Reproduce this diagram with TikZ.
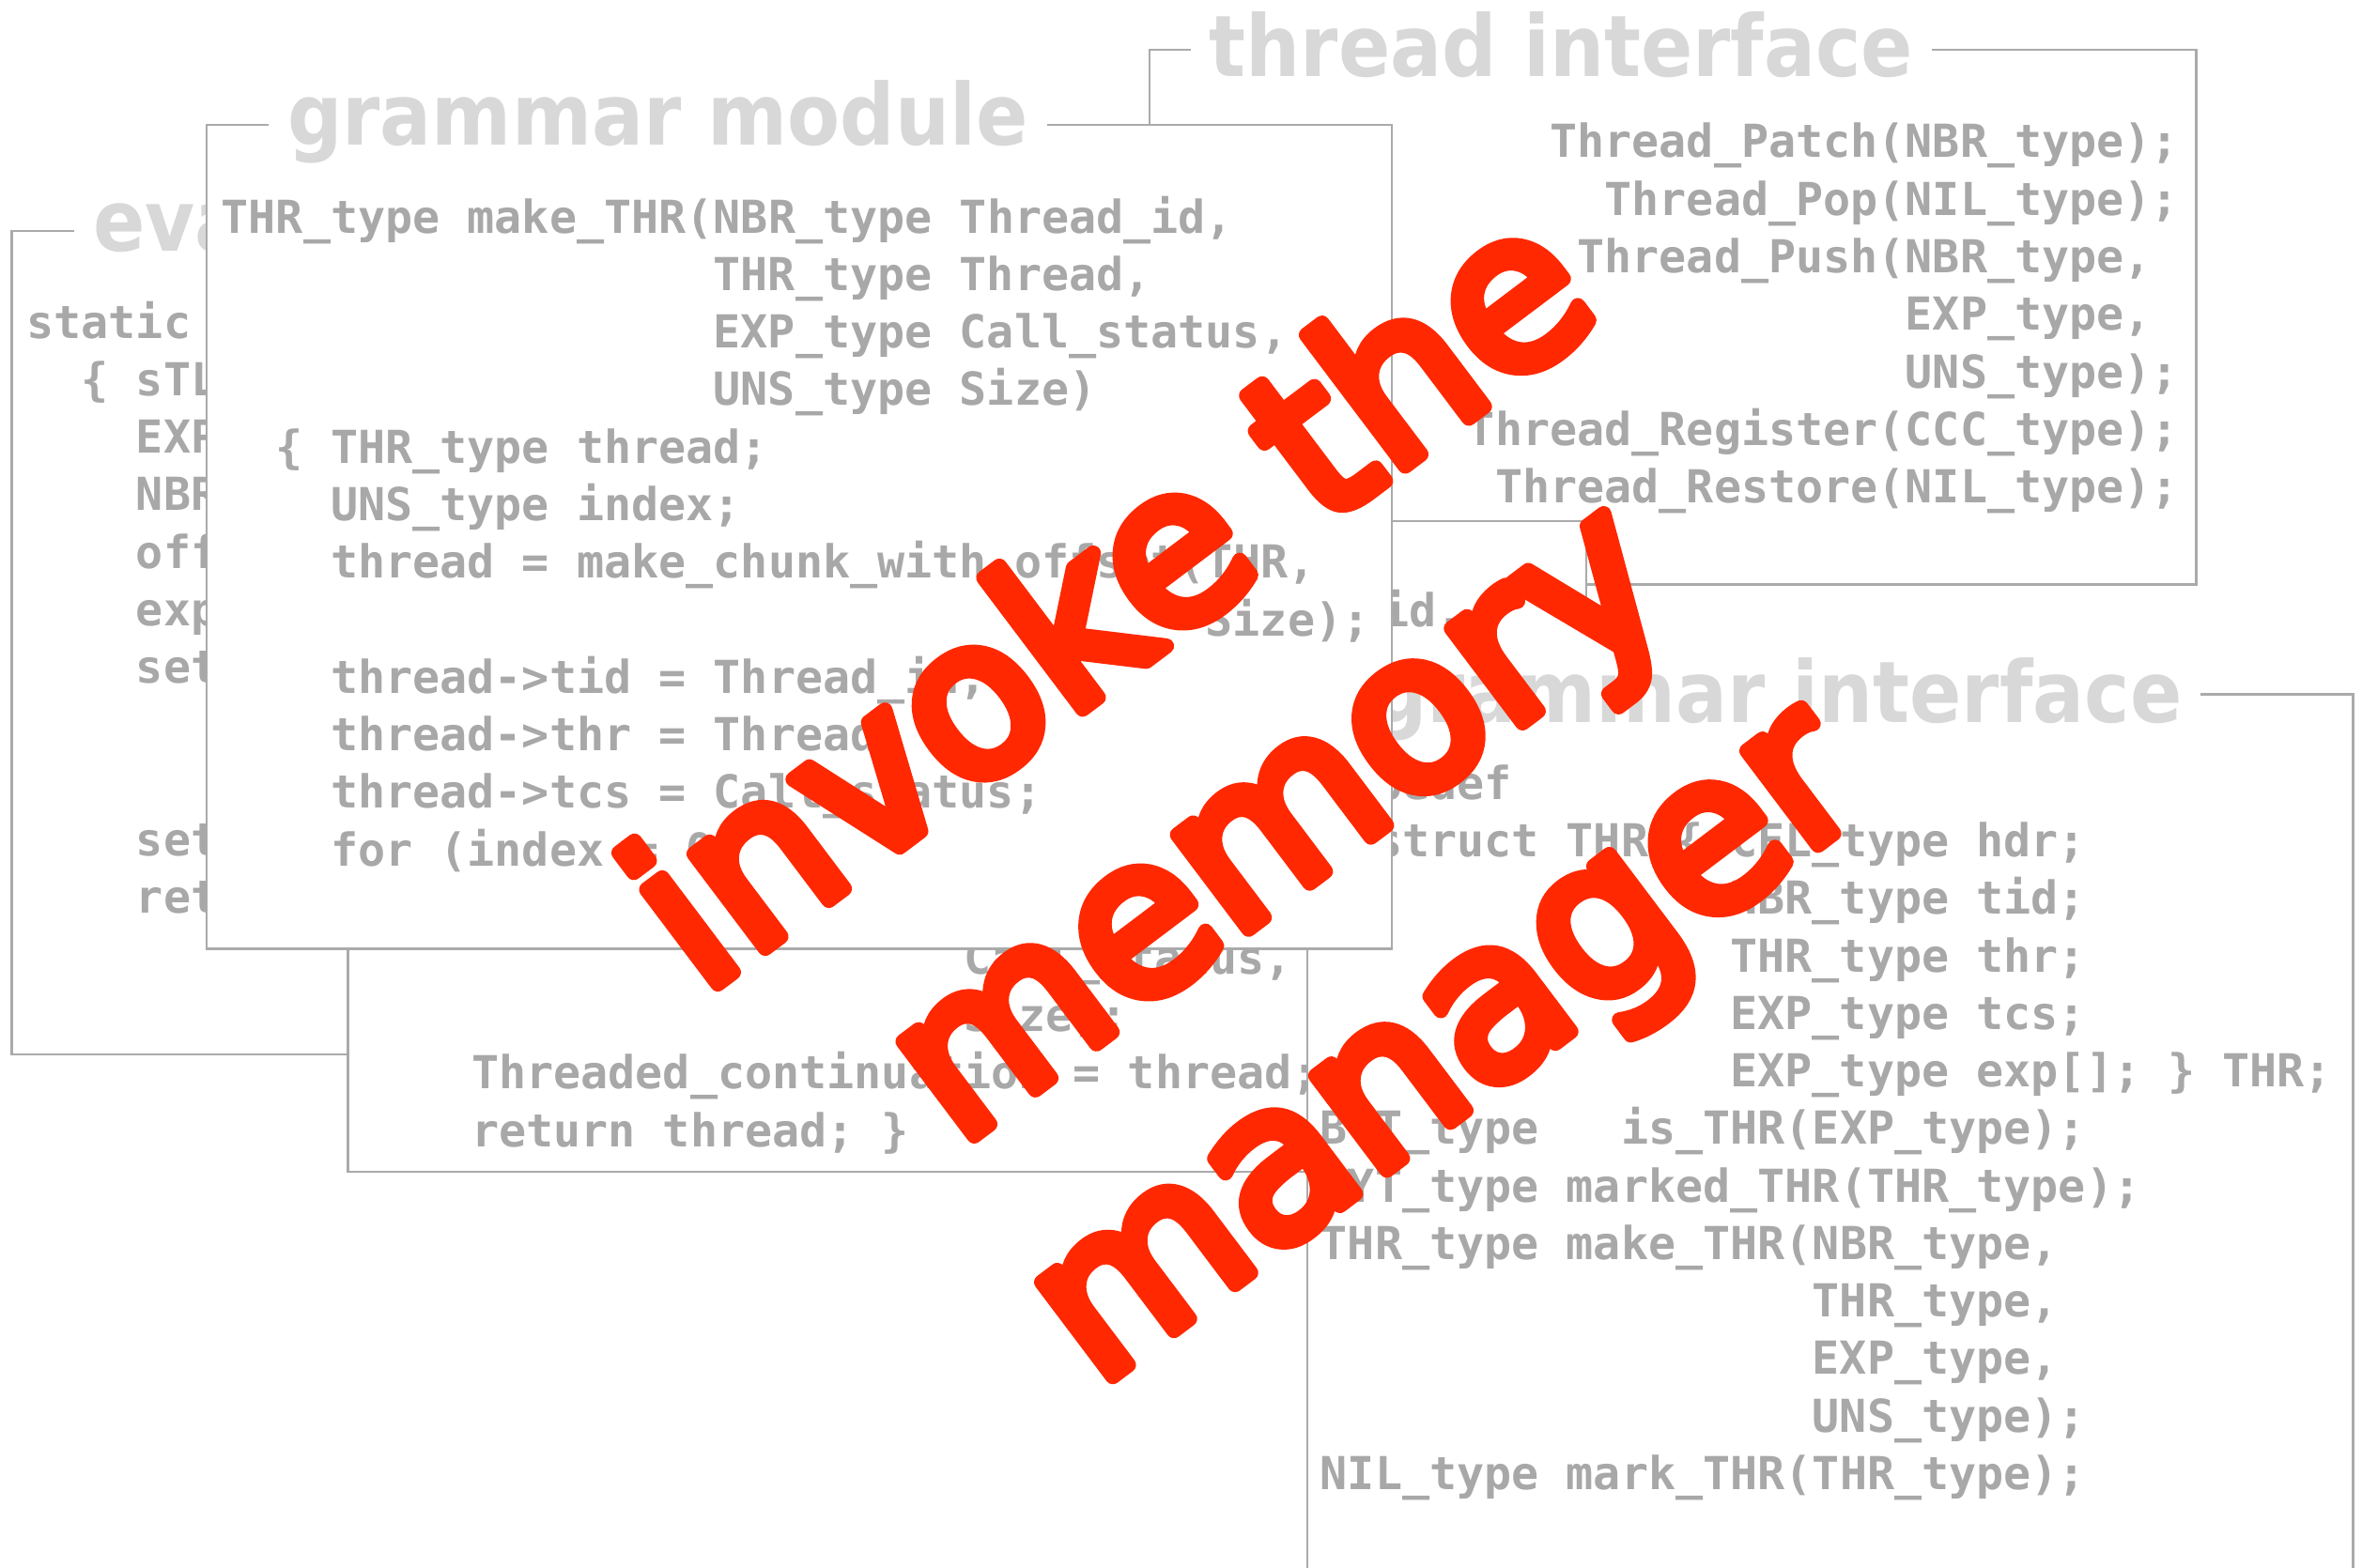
\documentclass[tikz,border=0pt]{standalone}
\usepackage{fontspec}
\usepackage{xcolor,calc}
\usetikzlibrary{backgrounds}

\newfontfamily\codefont{DejaVu Sans Mono}
\IfFontExistsTF{DejaVu Sans Condensed}{\newfontfamily\titlefont{DejaVu Sans Condensed}}{\newfontfamily\titlefont{DejaVu Sans}[FakeStretch=0.9]}
\newfontfamily\bannerfont{DejaVu Sans}

\definecolor{codegray}{RGB}{168,168,168}
\definecolor{titlegray}{RGB}{216,216,216}
\definecolor{framegray}{RGB}{170,170,170}
\definecolor{bannerred}{RGB}{255,40,0}

% outlined letters with round joins, for the soft look of the banner
\newcommand\softletters{\special{pdf:literal direct 2 Tr 1 j 4.6 w}}
\newcommand\hardletters{\special{pdf:literal direct 0 Tr}}

\tikzset{
    panel/.style={draw=framegray, line width=0.7pt, fill=white},
    paneltitle/.style={fill=white, anchor=base west, inner xsep=0.2cm, inner ysep=0.3cm,
        text=titlegray, font=\titlefont\bfseries\fontsize{25.8}{30}\selectfont},
    codeline/.style={inner sep=0pt, anchor=base west, text=codegray,
        font=\codefont\bfseries\fontsize{13.76}{16}\selectfont}
}

\begin{document}
\begin{tikzpicture}[
    x=0.01604cm, y=-0.01604cm,
    background rectangle/.style={fill=white},
    inner frame sep=0pt,
    show background rectangle
]
    % one unit is one pixel of the 1568 wide sketch
    \def\cw{18.15};
    \def\lh{38.2};
    \useasboundingbox (0,0) rectangle (1568,1041);

    % Draw the thread interface (back)
    \draw[panel] (763,33) rectangle (1458,388);
    \node[paneltitle] (tititle) at (790,51) {thread interface};
        \def\tix{974};
        \def\tiy{104.7};
    \foreach \row/\col/\txt in {0/3/{Thread\_Patch(NBR\_type);},
                                1/5/{Thread\_Pop(NIL\_type);},
                                2/4/{Thread\_Push(NBR\_type,},
                                3/16/{EXP\_type,},
                                4/16/{UNS\_type);},
                                5/0/{Thread\_Register(CCC\_type);},
                                6/1/{Thread\_Restore(NIL\_type);}} {
        \node[codeline] (ti-\row) at ({\tix+\col*\cw},{\tiy+\row*\lh}) {\txt};
    }

    % the hidden one behind
    \draw[panel] (700,346) rectangle (1053,600);
    \node[codeline] (hid-0) at (917,416) {id.};

    % Draw the evaluator
    \draw[panel] (7.7,153.4) rectangle (500,700);
    \node[paneltitle] (evtitle) at (49,166.5) {eva};
        \def\evx{17.3};
        \def\evy{224.5};
    \foreach \row/\col/\txt in {0/0/{static}, 1/2/{\{ sTL}, 2/4/{EXP}, 3/4/{NBR},
                                4/4/{off}, 5/4/{exp}, 6/4/{set}, 9/4/{set}, 10/4/{ret}} {
        \node[codeline] (ev-\row) at ({\evx+\col*\cw},{\evy+\row*\lh}) {\txt};
    }

    % the rest of the module code
    \draw[panel] (231,560) rectangle (1000,778);
        \def\bkx{240};
        \def\bky{646.7};
    \foreach \row/\col/\txt in {0/22/{Call\_status,}, 1/22/{Size);},
                                2/4/{Threaded\_continuation = thread;},
                                3/4/{return thread; \}}} {
        \node[codeline] (bk-\row) at ({\bkx+\col*\cw},{\bky+\row*\lh}) {\txt};
    }

    % Draw the grammar interface
    \draw[panel] (868,461) rectangle (1562,1060);
    \node[paneltitle] (gititle) at (898,480) {grammar interface};
        \def\gix{876};
        \def\giy{530.7};
    \foreach \row/\col/\txt in {0/0/{typedef},
                                1/2/{struct THR \{ CEL\_type hdr;},
                                2/15/{NBR\_type tid;},
                                3/15/{THR\_type thr;},
                                4/15/{EXP\_type tcs;},
                                5/15/{EXP\_type exp[]; \} THR;},
                                6/0/{BYT\_type~~~is\_THR(EXP\_type);},
                                7/0/{BYT\_type marked\_THR(THR\_type);},
                                8/0/{THR\_type make\_THR(NBR\_type,},
                                9/18/{THR\_type,},
                                10/18/{EXP\_type,},
                                11/18/{UNS\_type);},
                                12/0/{NIL\_type mark\_THR(THR\_type);}} {
        \node[codeline] (gi-\row) at ({\gix+\col*\cw},{\giy+\row*\lh}) {\txt};
    }

    % Draw the grammar module (front)
    \draw[panel] (137.2,83) rectangle (924,630);
    \node[paneltitle] (gmtitle) at (178,96.6) {grammar module};
        \def\gmx{146.5};
        \def\gmy{154.7};
    \foreach \row/\col/\txt in {0/0/{THR\_type make\_THR(NBR\_type Thread\_id,},
                                1/18/{THR\_type Thread,},
                                2/18/{EXP\_type Call\_status,},
                                3/18/{UNS\_type Size)},
                                4/2/{\{ THR\_type thread;},
                                5/4/{UNS\_type index;},
                                6/4/{thread = make\_chunk\_with\_offset(THR,},
                                7/36/{Size);},
                                8/4/{thread->tid = Thread\_id;},
                                9/4/{thread->thr = Thread;},
                                10/4/{thread->tcs = Call\_status;},
                                11/4/{for (index = 0;}} {
        \node[codeline] (gm-\row) at ({\gmx+\col*\cw},{\gmy+\row*\lh}) {\txt};
    }

    % the banner on top of everything
    \node[rotate=37, align=center, text=bannerred,
          font=\bannerfont\fontsize{65.5}{83.5}\selectfont] (banner) at (852,550)
          {\softletters invoke the\\memory\\manager\hardletters};
\end{tikzpicture}
\end{document}
